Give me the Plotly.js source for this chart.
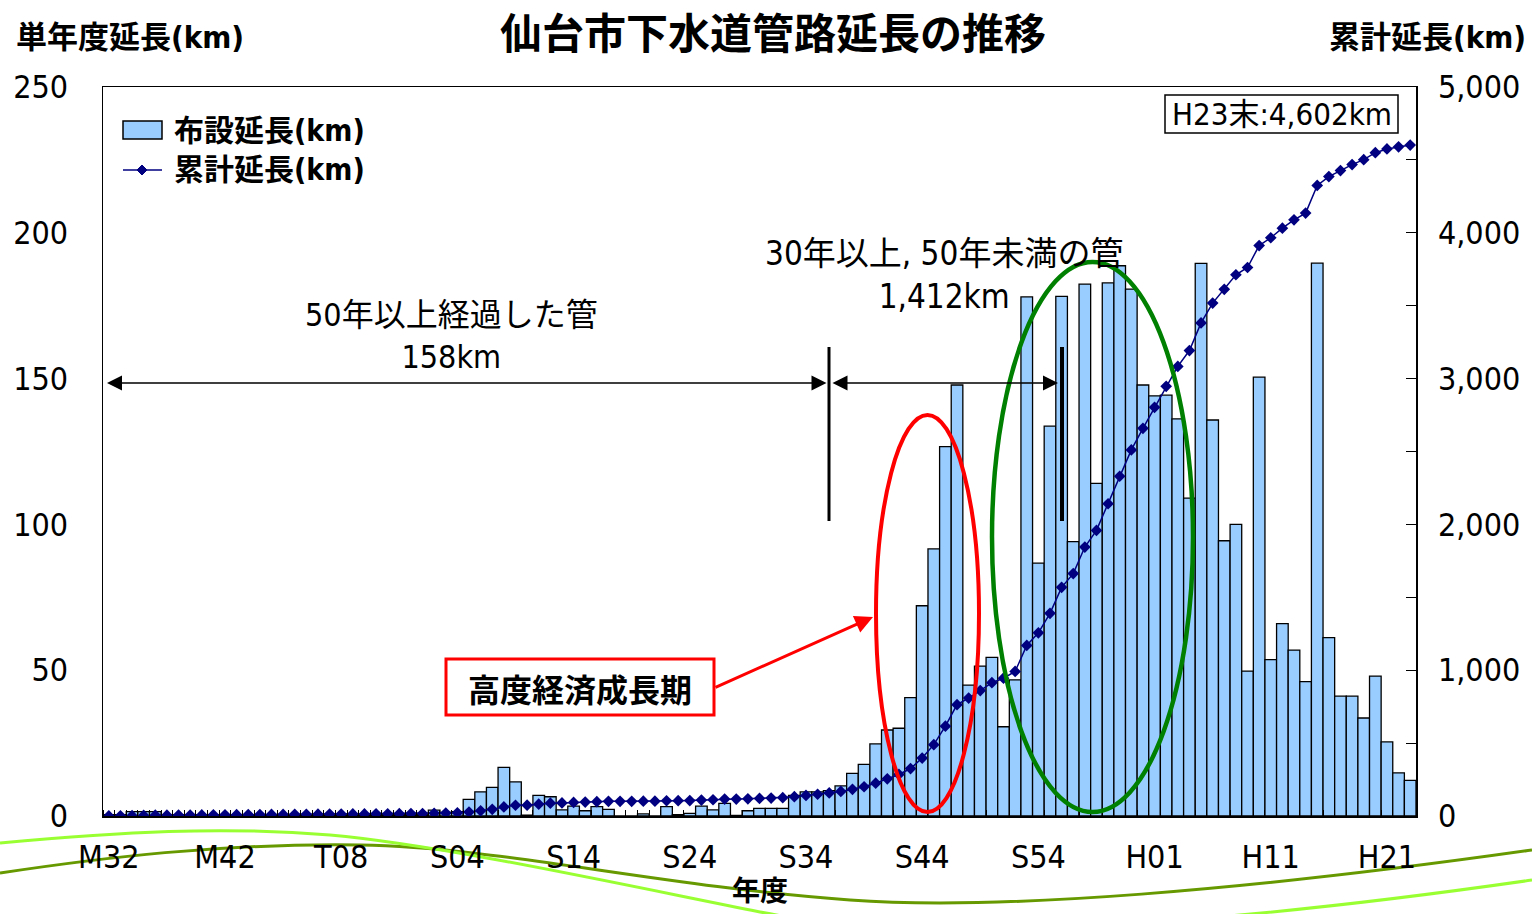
<!DOCTYPE html>
<html><head><meta charset="utf-8">
<script src="https://cdn.plot.ly/plotly-3.0.1.min.js"></script>
<style>html,body{margin:0;padding:0;background:#fff;} #chart{width:1532px;height:914px;}</style>
</head><body><div id="chart"></div>
<script>
// ---- data (fiscal years M32=1899 ... H23=2011) ----
const firstYear = 1899;
const lengthLaid = [
  0.5, 0.5, 1.5, 1.5, 1.5,
  0.5, 0.5, 0.5, 0.5, 0.5, 0.5, 0.5, 0.5, 0.5, 0.5, 0.5,
  0.5, 0.5, 0.5, 0.5, 0.5, 0.5, 0.5, 0.5, 0.5, 0.5, 0.5,
  0.5, 2.0, 1.2, 1.5,
  5.7, 8.3, 9.8, 16.7, 11.7, 0.3, 7.1, 6.6, 2.1, 3.4, 1.8, 3.2, 2.3, 0, 0, 0.7,
  0, 3.2, 0.5, 0.9, 3.4, 2.1, 4.3, 0.2, 1.8, 2.6, 2.6, 2.6, 7.1, 8.3, 8.3, 8.7,
  10.3, 14.6, 17.7, 24.7, 29.5, 30.1, 40.6, 72.1, 91.6, 126.7, 147.8, 44.9, 51.4, 54.4, 30.6, 46.7,
  178.0, 86.7, 133.7, 178.2, 94.1, 182.4, 114.1, 182.8, 188.7, 180.7, 147.8, 144.1, 144.3, 136.2, 109.0, 189.5,
  135.8, 94.4, 100.0, 49.7, 150.5, 53.6, 66.0, 56.9, 46.1, 189.6, 61.2, 41.1, 41.1, 33.6, 48.0, 25.4, 14.8, 12.2
];
const cumulativeLength = [
  0.5, 1.0, 2.5, 4.0, 5.5, 6.0, 6.5, 7.0, 7.5, 8.0, 8.5, 9.0, 9.5, 10.0, 10.5, 11.0,
  11.5, 12.0, 12.5, 13.0, 13.5, 14.0, 14.5, 15.0, 15.5, 16.0, 16.5, 17.0, 19.0, 20.2, 21.7,
  27.4, 35.7, 45.5, 62.2, 73.9, 74.2, 81.3, 87.9, 90.0, 93.4, 95.2, 98.4, 100.7, 100.7, 100.7, 101.4,
  101.4, 104.6, 105.1, 106.0, 109.4, 111.5, 115.8, 116.0, 117.8, 120.4, 123.0, 125.6, 132.7, 141.0, 149.3, 158.0,
  168.3, 182.9, 200.6, 225.3, 254.8, 284.9, 325.5, 397.6, 489.2, 615.9, 763.7, 808.6, 860.0, 914.4, 945.0, 991.7,
  1169.7, 1256.4, 1390.1, 1568.3, 1662.4, 1844.8, 1958.9, 2141.7, 2330.4, 2511.1, 2658.9, 2803.0, 2947.3, 3083.5, 3192.5, 3382.0,
  3517.8, 3612.2, 3712.2, 3761.9, 3912.4, 3966.0, 4032.0, 4088.9, 4135.0, 4324.6, 4385.8, 4426.9, 4468.0, 4501.6, 4549.6, 4575.0, 4589.8, 4602.0
];
const tickYears = [1899, 1909, 1919, 1929, 1939, 1949, 1959, 1969, 1979, 1989, 1999, 2009];
const tickLabels = ['M32', 'M42', 'T08', 'S04', 'S14', 'S24', 'S34', 'S44', 'S54', 'H01', 'H11', 'H21'];
const years = lengthLaid.map((_, i) => firstYear + i);

// ---- layout helpers (pixel -> paper) ----
const L = 103, R = 1416, T = 87, B = 816;
const px = X => (X - L) / (R - L);
const py = Y => (B - Y) / (B - T);
function toPaperPath(str) {
  const tk = str.trim().split(/[\s,]+/);
  let out = '', i = 0;
  while (i < tk.length) {
    if (/^[A-Za-z]$/.test(tk[i])) { out += tk[i]; i++; }
    else { out += px(+tk[i]).toFixed(5) + ',' + py(+tk[i + 1]).toFixed(5) + ' '; i += 2; }
  }
  return out;
}

const NARROW = '"Liberation Sans Narrow", "Arial Narrow", "DejaVu Sans Condensed", "Noto Sans CJK JP", sans-serif';
const JP = '"Noto Sans CJK JP", sans-serif';

const traces = [
  {
    type: 'bar', name: '布設延長(km)', x: years, y: lengthLaid, width: 1,
    marker: { color: '#99CCFF', line: { color: '#000000', width: 1.3 } },
    showlegend: false, hoverinfo: 'x+y'
  },
  {
    type: 'scatter', mode: 'lines+markers', name: '累計延長(km)', x: years, y: cumulativeLength, yaxis: 'y2',
    line: { color: '#000080', width: 1.5 },
    marker: { symbol: 'diamond', size: 9, color: '#000080' },
    showlegend: false
  }
];

function txt(text, X, Y, size, anchor, family, extra) {
  return Object.assign({
    text: text, xref: 'paper', yref: 'paper', x: px(X), y: py(Y),
    xanchor: anchor || 'center', yanchor: 'middle', showarrow: false,
    font: { family: family || NARROW, size: size, color: '#000' }
  }, extra || {});
}
function arrow(headX, headY, tailX, tailY, color, width, size, both) {
  const a = {
    text: '', xref: 'paper', yref: 'paper', x: px(headX), y: py(headY),
    axref: 'pixel', ayref: 'pixel', ax: tailX - headX, ay: tailY - headY,
    showarrow: true, arrowhead: 2, arrowsize: size, arrowwidth: width, arrowcolor: color
  };
  if (both) { a.arrowside = 'end+start'; a.startarrowhead = 2; a.startarrowsize = size; }
  return a;
}

const annotations = [
  txt('<b>単年度延長(km)</b>', 14, 37, 31, 'left', NARROW),
  txt('<b>累計延長(km)</b>', 1528, 37, 31, 'right', NARROW),
  txt('<b>年度</b>', 760, 889, 28, 'center', JP, { borderpad: 0 }),
  txt('<b>布設延長(km)</b>', 172, 130, 30, 'left', NARROW),
  txt('<b>累計延長(km)</b>', 172, 170, 30, 'left', NARROW),
  txt('50年以上経過した管<br>158km', 451, 336, 32),
  txt('30年以上, 50年未満の管<br>1,412km', 944, 275, 33),
  txt('H23末:4,602km', 1282, 114, 31),
  txt('<b>高度経済成長期</b>', 580, 688, 32, 'center', JP),
  arrow(107, 383, 828, 383, '#000', 1.5, 2, true),
  arrow(1058, 383, 831, 383, '#000', 1.5, 2, true),
  arrow(873, 617, 714, 688, '#FF0000', 3, 1.2, false)
];

const shapes = [
  // decorative waves
  { type: 'path', layer: 'below', xref: 'paper', yref: 'paper',
    path: toPaperPath('M 0 873 C 100 858 220 843 360 845 C 500 847 650 885 850 900 C 1000 911 1250 890 1532 850'),
    line: { color: '#669900', width: 3 } },
  { type: 'path', layer: 'below', xref: 'paper', yref: 'paper',
    path: toPaperPath('M 0 843 C 120 832 220 826 330 835 C 440 845 600 880 760 912 C 900 940 1150 935 1532 880'),
    line: { color: '#99FF33', width: 3 } },
  // legend
  { type: 'rect', xref: 'paper', yref: 'paper', x0: px(123), x1: px(162), y0: py(139), y1: py(121),
    fillcolor: '#99CCFF', line: { color: '#000', width: 1.5 } },
  { type: 'line', xref: 'paper', yref: 'paper', x0: px(123), x1: px(162), y0: py(170), y1: py(170),
    line: { color: '#000080', width: 1.5 } },
  { type: 'path', xref: 'paper', yref: 'paper', path: toPaperPath('M 137 170 L 142 165 L 147 170 L 142 175 Z'),
    fillcolor: '#000080', line: { color: '#000080', width: 1 } },
  // period separators
  { type: 'line', xref: 'paper', yref: 'paper', x0: px(829), x1: px(829), y0: py(347), y1: py(521),
    line: { color: '#000', width: 3 } },
  { type: 'line', xref: 'paper', yref: 'paper', x0: px(1062), x1: px(1062), y0: py(347), y1: py(521),
    line: { color: '#000', width: 4 } },
  // ellipses
  { type: 'circle', xref: 'paper', yref: 'paper', x0: px(876), x1: px(979), y0: py(812), y1: py(415),
    line: { color: '#FF0000', width: 4 } },
  { type: 'circle', xref: 'paper', yref: 'paper', x0: px(992), x1: px(1193), y0: py(812), y1: py(262),
    line: { color: '#008000', width: 4.5 } },
  // boxes
  { type: 'rect', xref: 'paper', yref: 'paper', x0: px(1165), x1: px(1398), y0: py(133), y1: py(95),
    fillcolor: '#FFFFFF', line: { color: '#000', width: 1.5 }, layer: 'below' },
  { type: 'rect', xref: 'paper', yref: 'paper', x0: px(446), x1: px(714), y0: py(715), y1: py(659),
    fillcolor: '#FFFFFF', line: { color: '#FF0000', width: 3 } }
];

const layout = {
  width: 1532, height: 914,
  margin: { l: 103, r: 116, t: 87, b: 98, pad: 0 },
  paper_bgcolor: '#FFFFFF', plot_bgcolor: 'rgba(0,0,0,0)',
  title: { text: '<b>仙台市下水道管路延長の推移</b>', font: { family: JP, size: 42, color: '#000' },
    xref: 'container', yref: 'container', x: 773 / 1532, xanchor: 'center', y: 1 - 34 / 914, yanchor: 'middle' },
  bargap: 0,
  xaxis: {
    range: [1898.5, 2011.5], tickmode: 'array', tickvals: tickYears, ticktext: tickLabels,
    ticks: '', showline: true, linecolor: '#000', linewidth: 1.5, mirror: true,
    showgrid: false, zeroline: false, ticklabelstandoff: 12,
    tickfont: { family: NARROW, size: 32, color: '#000' },
    minor: { tickmode: 'linear', tick0: 1898.5, dtick: 1, ticks: 'inside', ticklen: 6, tickcolor: '#000', tickwidth: 1, showgrid: false }
  },
  yaxis: {
    range: [0, 250], tickmode: 'linear', tick0: 0, dtick: 50, ticks: '',
    showline: true, linecolor: '#000', linewidth: 1.5, showgrid: false, zeroline: false,
    ticklabelstandoff: 27, tickfont: { family: NARROW, size: 32, color: '#000' }
  },
  yaxis2: {
    overlaying: 'y', side: 'right', range: [0, 5000], tickmode: 'linear', tick0: 0, dtick: 1000,
    tickformat: ',d', ticks: 'inside', ticklen: 10, tickcolor: '#000', tickwidth: 1,
    showline: true, linecolor: '#000', linewidth: 1.5, showgrid: false, zeroline: false,
    ticklabelstandoff: 14, tickfont: { family: NARROW, size: 32, color: '#000' },
    minor: { tickmode: 'linear', tick0: 0, dtick: 500, ticks: 'inside', ticklen: 10, tickcolor: '#000', tickwidth: 1, showgrid: false }
  },
  annotations: annotations,
  shapes: shapes,
  showlegend: false
};

Plotly.newPlot('chart', traces, layout, { displayModeBar: false, staticPlot: true });
</script>
</body></html>
